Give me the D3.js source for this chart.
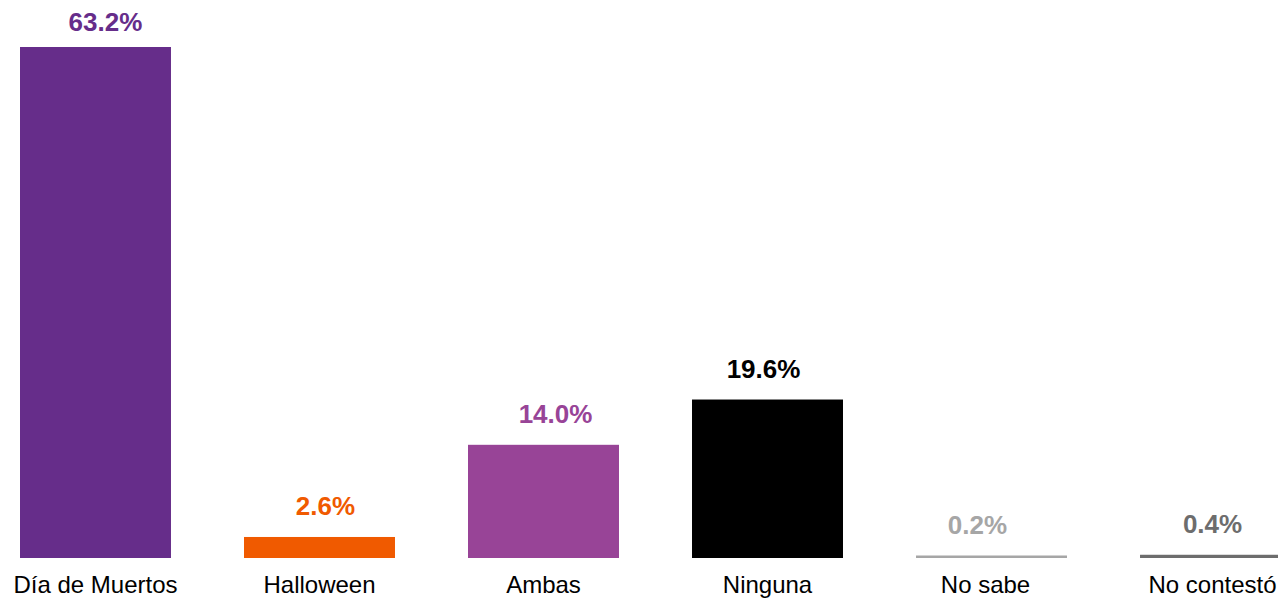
<!DOCTYPE html>
<html>
<head>
<meta charset="utf-8">
<script src="https://cdn.jsdelivr.net/npm/d3@7"></script>
<style>
  body { margin: 0; background: #fff; }
  svg { display: block; font-family: Arial, "Liberation Sans", sans-serif; }
</style>
</head>
<body>
<svg id="chart"></svg>
<script>
// Preferencia de festividad
const categories = ['Día de Muertos', 'Halloween', 'Ambas', 'Ninguna', 'No sabe', 'No contestó'];
const values = [63.2, 2.6, 14.0, 19.6, 0.2, 0.4];
const barColors = ['#662d8a', '#f05a00', '#984497', '#000000', '#a6a6a6', '#6d6d6d'];
const labelColors = ['#662d8a', '#f05a00', '#984497', '#000000', '#a6a6a6', '#6d6d6d'];

// hand placed label nudges (px), the original labels are not all centred
const valueNudge = [10, 6, 12, -4, -14, -3];
const catNudge = [0, 0, 0, 0, -6, -3];

const width = 1278, height = 599;
const margin = {top: 47, left: 20, bottom: 41};
const baseline = height - margin.bottom;

const svg = d3.select('#chart')
    .attr('width', width)
    .attr('height', height);

const xScale = d3.scaleBand()
    .domain(categories)
    .range([margin.left, 1291])
    .paddingInner(0.326)
    .paddingOuter(0);

const yScale = d3.scaleLinear()
    .domain([0, d3.max(values)])
    .range([baseline, margin.top]);

const data = categories.map((c, i) => ({cat: c, val: values[i], bar: barColors[i], lab: labelColors[i], i: i}));
const center = d => xScale(d.cat) + xScale.bandwidth() / 2;

// bars (tiny values still get a visible hairline)
svg.selectAll('.bar')
    .data(data)
  .join('rect')
    .attr('class', 'bar')
    .attr('x', d => xScale(d.cat))
    .attr('width', xScale.bandwidth())
    .attr('y', d => Math.min(yScale(d.val), baseline - 2.5))
    .attr('height', d => Math.max(baseline - yScale(d.val), 2.5))
    .attr('fill', d => d.bar);

// value labels
svg.selectAll('.val')
    .data(data)
  .join('text')
    .attr('class', 'val')
    .attr('x', d => center(d) + valueNudge[d.i])
    .attr('y', d => Math.max(yScale(d.val) - 22, 31))
    .attr('text-anchor', 'middle')
    .attr('font-size', 26)
    .attr('font-weight', 'bold')
    .attr('fill', d => d.lab)
    .text(d => d.val.toFixed(1) + '%');

// category labels
svg.selectAll('.cat')
    .data(data)
  .join('text')
    .attr('class', 'cat')
    .attr('x', d => center(d) + catNudge[d.i])
    .attr('y', baseline + 35)
    .attr('text-anchor', 'middle')
    .attr('font-size', 24)
    .attr('fill', '#000')
    .text(d => d.cat);

// keep the last label inside the frame
svg.selectAll('.cat').each(function() {
  const box = this.getBBox();
  if (box.x + box.width > width - 1) {
    d3.select(this).attr('x', +d3.select(this).attr('x') - (box.x + box.width - width + 1));
  }
});
</script>
</body>
</html>
